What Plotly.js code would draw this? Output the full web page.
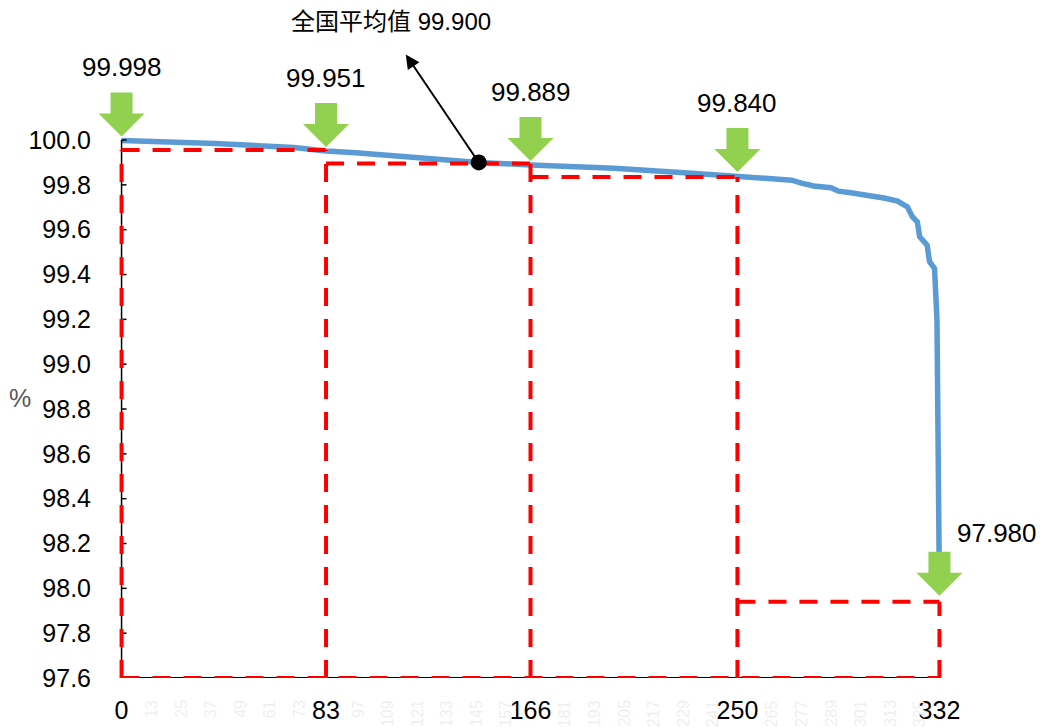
<!DOCTYPE html>
<html>
<head>
<meta charset="utf-8">
<script src="https://cdn.plot.ly/plotly-3.0.1.min.js"></script>
<style>html,body{margin:0;padding:0;background:#fff;}#chart{width:1047px;height:727px;}</style>
</head>
<body>
<div id="chart"></div>
<script>
// ---- data ----
const ranks = [0, 38, 70, 83, 95, 107, 125, 145, 166, 200, 230, 250, 262, 272, 276, 281, 288, 291, 296, 307, 310, 315, 319, 321, 323, 324, 327, 328, 330, 331, 332];
const pct   = [99.998, 99.985, 99.967, 99.951, 99.943, 99.933, 99.918, 99.900, 99.889, 99.874, 99.853, 99.840, 99.829, 99.821, 99.808, 99.795, 99.787, 99.772, 99.765, 99.750, 99.740, 99.728, 99.702, 99.658, 99.635, 99.568, 99.531, 99.457, 99.427, 99.200, 97.980];
const markX   = [0, 83, 166, 250, 332];
const markVal = [99.998, 99.951, 99.889, 99.840, 97.980];
const boxLeft  = [0, 83, 166, 250];
const boxRight = [83, 166, 250, 332];
const boxTop   = [99.955, 99.895, 99.835, 97.94];
const meanRank = 145;
const meanVal  = 99.900;
const meanLabel = '全国平均值 99.900';
const yTicks = [97.6, 97.8, 98.0, 98.2, 98.4, 98.6, 98.8, 99.0, 99.2, 99.4, 99.6, 99.8, 100.0];
const xTickVals = [0, 83, 166, 250, 332];
const faintTicks = [13, 25, 37, 49, 61, 73, 97, 109, 121, 133, 145, 157, 181, 193, 205, 217, 229, 241, 265, 277, 289, 301, 313, 325];

const FONT = 'Liberation Sans, Arial, "Noto Sans CJK SC", sans-serif';
const X0 = 0, X1 = 332, Y0 = 97.6, Y1 = 100.0;

const traces = [{
  x: ranks, y: pct, type: 'scatter', mode: 'lines',
  line: {color: '#5b9bd5', width: 5.5}, hoverinfo: 'skip', cliponaxis: false
}];

const shapes = [];
// axis lines
shapes.push({type:'line', xref:'x', yref:'y', x0:X0, x1:X0, y0:Y0, y1:Y1, line:{color:'#000', width:1.5}, layer:'above'});
shapes.push({type:'line', xref:'x', yref:'y', x0:X0, x1:X1, y0:Y0, y1:Y0, line:{color:'#000', width:2}, layer:'above'});
yTicks.forEach(v => shapes.push({type:'line', xref:'x', yref:'y', xsizemode:'pixel', xanchor:X0, x0:0, x1:5, y0:v, y1:v, line:{color:'#000', width:1.5}, layer:'above'}));

// red dashed boxes, drawn as single segments so shared edges stay dashed
const redLine = {color:'#ff0000', width:4, dash:'18px,13px'};
const seg = (x0, y0, x1, y1) => shapes.push({type:'line', xref:'x', yref:'y', x0, y0, x1, y1, line:redLine, layer:'above'});
seg(boxLeft[0], Y0, boxRight[boxRight.length - 1], Y0);              // common bottom
for (let i = 0; i < boxLeft.length; i++) seg(boxLeft[i], boxTop[i], boxRight[i], boxTop[i]); // tops
for (let i = 0; i <= boxLeft.length; i++) {                           // verticals
  const xv = i < boxLeft.length ? boxLeft[i] : boxRight[i - 1];
  const tl = i > 0 ? boxTop[i - 1] : -Infinity;
  const tr = i < boxLeft.length ? boxTop[i] : -Infinity;
  seg(xv, Y0, xv, Math.max(tl, tr));
}

// green down arrows
const arrowPath = lift => `M 0 ${lift} L -23 ${lift+23} L -11 ${lift+23} L -11 ${lift+44} L 11 ${lift+44} L 11 ${lift+23} L 23 ${lift+23} Z`;
for (let i = 0; i < markX.length; i++) {
  const last = i === markX.length - 1;
  shapes.push({type:'path', xref:'x', yref:'y', xsizemode:'pixel', ysizemode:'pixel',
    xanchor:markX[i], yanchor:markVal[i], path:arrowPath(last ? -3 : 4), fillcolor:'#92d050', line:{width:0}, layer:'above'});
}
// mean dot
shapes.push({type:'circle', xref:'x', yref:'y', xsizemode:'pixel', ysizemode:'pixel',
  xanchor:meanRank, yanchor:meanVal, x0:-8, x1:8, y0:-8, y1:8, fillcolor:'#000', line:{width:0}, layer:'above'});

const annotations = [];
for (let i = 0; i < markX.length; i++) {
  const last = i === markX.length - 1;
  annotations.push({x:markX[i], y:markVal[i], xref:'x', yref:'y', text:markVal[i].toFixed(3), showarrow:false,
    xshift: last ? 58 : 0, yshift: last ? 60 : 73, font:{family:FONT, size:26, color:'#000'}});
}
// mean arrow + label
annotations.push({x:meanRank, y:meanVal, xref:'x', yref:'y', text:'', showarrow:true,
  xshift:-73, yshift:108, ax:73, ay:108, arrowhead:2, arrowsize:1.4, arrowwidth:2, arrowcolor:'#000'});
annotations.push({x:meanRank, y:meanVal, xref:'x', yref:'y', text:meanLabel, showarrow:false,
  xshift:-88, yshift:141, font:{family:FONT, size:24, color:'#000'}});
// % title
annotations.push({x:-0.082, y:98.85, xref:'paper', yref:'y', xanchor:'center', text:'%', showarrow:false,
  font:{family:FONT, size:25, color:'#595959'}});
// faint category labels
faintTicks.forEach(t => annotations.push({x:t - 1, y:Y0, xref:'x', yref:'y', text:String(t), showarrow:false,
  textangle:-90, yanchor:'top', yshift:-20, font:{family:FONT, size:16, color:'#efefef'}}));

const layout = {
  width:1047, height:727,
  margin:{l:92, r:78, t:84, b:49, pad:0},
  paper_bgcolor:'#fff', plot_bgcolor:'#fff',
  showlegend:false,
  font:{family:FONT, size:25, color:'#000'},
  xaxis:{range:[-12, 344], showgrid:false, zeroline:false, showline:false, ticks:'',
    tickvals:xTickVals, ticktext:xTickVals.map(String), ticklabelstandoff:15,
    tickfont:{family:FONT, size:25, color:'#000'}, fixedrange:true},
  yaxis:{range:[97.6, 100.25], showgrid:false, zeroline:false, showline:false, ticks:'',
    tickvals:yTicks, ticktext:yTicks.map(v => v.toFixed(1)), ticklabelstandoff:0,
    tickfont:{family:FONT, size:25, color:'#000'}, fixedrange:true},
  shapes:shapes, annotations:annotations
};

Plotly.newPlot('chart', traces, layout, {displayModeBar:false, staticPlot:true});
</script>
</body>
</html>
